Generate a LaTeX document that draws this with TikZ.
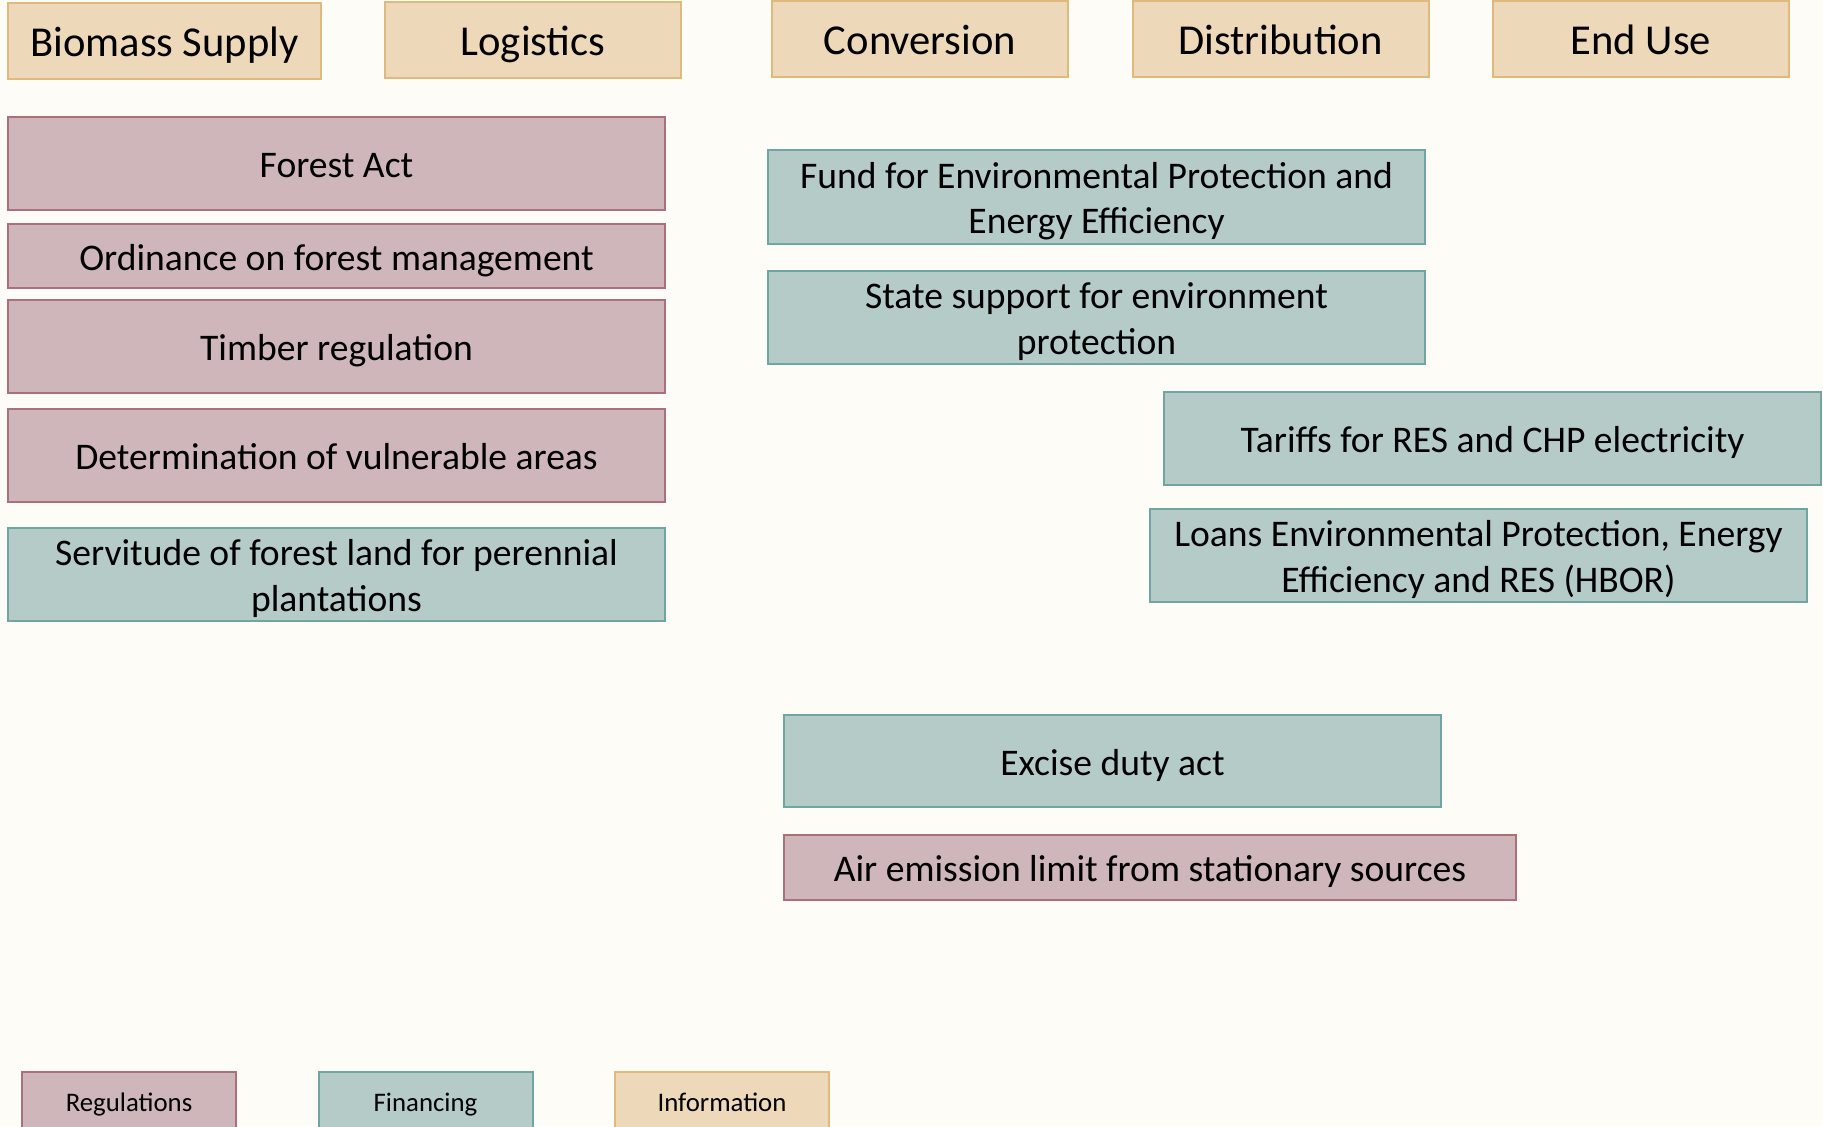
\documentclass[tikz,border=0pt]{standalone}
\usepackage{fontspec}
\setmainfont{Carlito}
\usepackage{tikz}
\definecolor{bgcream}{RGB}{253,252,246}
\definecolor{infofill}{RGB}{237,216,185}
\definecolor{infoline}{RGB}{224,186,124}
\definecolor{regfill}{RGB}{206,182,186}
\definecolor{regline}{RGB}{172,112,122}
\definecolor{finfill}{RGB}{181,203,200}
\definecolor{finline}{RGB}{112,166,161}
% line box as in the slide: same height above and below for every text
\newcommand{\linestrut}{\rule[-0.185em]{0pt}{1.115em}}
\tikzset{
  policy/.style={draw, line width=1pt, inner sep=0pt, align=center,
    font=\fontsize{18.8}{22.7}\selectfont,
    execute at begin node=\linestrut, execute at end node=\linestrut},
  infobox/.style={policy, fill=infofill, draw=infoline,
    font=\fontsize{21.3}{25.5}\selectfont},
  regbox/.style={policy, fill=regfill, draw=regline},
  finbox/.style={policy, fill=finfill, draw=finline},
  legend/.style={font=\fontsize{13.4}{16}\selectfont, minimum width=107pt, minimum height=29pt}
}

\begin{document}
\begin{tikzpicture}[x=0.5pt,y=0.5pt,yscale=-1,xscale=1]
%set diagram left start at 0, and has height of 1126
\fill [bgcream] (0,0) rectangle (1823,1126);
\useasboundingbox (0,0) rectangle (1823,1126);

%Shape: Rectangle (supply chain stages)
\node [infobox, minimum width=156.5pt, minimum height=38pt] (biomass) at (164.5,41) {Biomass Supply};
\node [infobox, minimum width=148pt, minimum height=38pt] (logistics) at (533,40) {Logistics};
\node [infobox, minimum width=148pt, minimum height=38pt] (conversion) at (920,39) {Conversion};
\node [infobox, minimum width=148pt, minimum height=38pt] (distribution) at (1280.5,39) {Distribution};
\node [infobox, minimum width=148pt, minimum height=38pt] (enduse) at (1641,39) {End Use};

%Shape: Rectangle (biomass supply measures)
\node [regbox, minimum width=328.5pt, minimum height=46.5pt] (forestact) at (336.5,163.5) {Forest Act};
\node [regbox, minimum width=328.5pt, minimum height=32pt] (ordinance) at (336.5,256) {Ordinance on forest management};
\node [regbox, minimum width=328.5pt, minimum height=46.5pt] (timber) at (336.5,346.5) {Timber regulation};
\node [regbox, minimum width=328.5pt, minimum height=46.5pt] (vulnerable) at (336.5,455.5) {Determination of vulnerable areas};
\node [finbox, minimum width=328.5pt, minimum height=46.5pt] (servitude) at (336.5,574.5) {\linestrut Servitude of forest land for perennial\\plantations\linestrut};

%Shape: Rectangle (conversion and distribution measures)
\node [finbox, minimum width=328.5pt, minimum height=47pt] (fund) at (1096.5,197) {\linestrut Fund for Environmental Protection and\\Energy Efficiency\linestrut};
\node [finbox, minimum width=328.5pt, minimum height=46.5pt] (statesupport) at (1096.5,317.5) {\linestrut State support for environment\\protection\linestrut};
\node [finbox, minimum width=328.5pt, minimum height=46.5pt] (tariffs) at (1492.5,438.5) {Tariffs for RES and CHP electricity};
\node [finbox, minimum width=328.5pt, minimum height=46.5pt] (loans) at (1478.5,555.5) {\linestrut Loans Environmental Protection, Energy\\Efficiency and RES (HBOR)\linestrut};
\node [finbox, minimum width=328.5pt, minimum height=46pt] (excise) at (1112.5,761) {Excise duty act};
\node [regbox, minimum width=366pt, minimum height=32.5pt] (airemission) at (1150,867.5) {Air emission limit from stationary sources};

% Legend
\node [regbox, legend] (regulations) at (129,1101) {Regulations};
\node [finbox, legend] (financing) at (425.5,1101) {Financing};
\node [infobox, legend] (information) at (722,1101) {Information};

\end{tikzpicture}
\end{document}
